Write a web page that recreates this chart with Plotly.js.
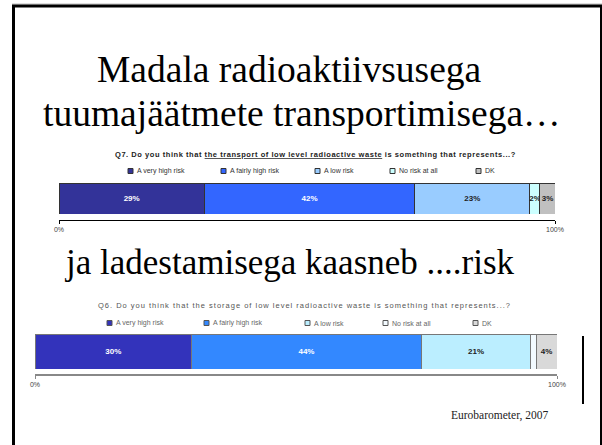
<!DOCTYPE html>
<html>
<head>
<meta charset="utf-8">
<script src="https://cdn.plot.ly/plotly-3.0.1.min.js"></script>
<style>
  html, body { margin: 0; padding: 0; background: #fff; }
  #chart { width: 602px; height: 445px; }
</style>
</head>
<body>
<div id="chart"></div>
<script>
var W = 602, H = 445;
// pixel -> paper helpers
function px(x) { return x / W; }
function py(y) { return 1 - y / H; }

var categories = ['A very high risk', 'A fairly high risk', 'A low risk', 'No risk at all', 'DK'];
var transportValues = [29, 42, 23, 2, 3];
var storageValues = [30, 44, 21, 1, 4];
var transportColors = ['#333399', '#3366ff', '#99ccff', '#ccffff', '#c0c0c0'];
var storageColors = ['#3333bb', '#3388ff', '#bbeeff', '#f2faff', '#d9d9d9'];
var tickLabels = ['0%', '100%'];

var headings = ['Madala radioaktiivsusega', 'tuumajäätmete transportimisega…', 'ja ladestamisega kaasneb ....risk'];
var q7Title = 'Q7. Do you think that <u>the transport of low level radioactive waste</u> is something that represents...?';
var q6Title = 'Q6. Do you think that the storage of low level radioactive waste is something that represents...?';
var source = 'Eurobarometer, 2007';

function sum(a) { return a.reduce(function (s, v) { return s + v; }, 0); }

function makeTraces(values, colors, xa, ya, lineColor) {
  return values.map(function (v, i) {
    return {
      type: 'bar',
      orientation: 'h',
      x: [v],
      y: [0],
      xaxis: xa,
      yaxis: ya,
      name: categories[i],
      width: 1,
      marker: { color: colors[i], line: { color: lineColor, width: 1 } },
      text: [v > 1 ? v + '%' : ''],
      textposition: 'inside',
      insidetextanchor: 'middle',
      textangle: 0,
      constraintext: 'none',
      insidetextfont: {
        family: 'Liberation Sans', size: 8, weight: 'bold',
        color: i < 2 ? '#ffffff' : '#222222'
      },
      showlegend: false,
      hoverinfo: 'skip'
    };
  });
}

var data = makeTraces(transportValues, transportColors, 'x', 'y', '#333333')
  .concat(makeTraces(storageValues, storageColors, 'x2', 'y2', '#777777'));

function xAxis(left, right, total, yPos, lineColor) {
  return {
    domain: [px(left), px(right)],
    range: [0, total],
    anchor: 'free',
    position: py(yPos),
    showline: true,
    linecolor: lineColor,
    linewidth: 1.5,
    ticks: 'outside',
    ticklen: 3,
    tickcolor: lineColor,
    tickvals: [0, total],
    ticktext: tickLabels,
    tickfont: { family: 'Liberation Sans', size: 7, color: '#444' },
    showgrid: false,
    zeroline: false,
    fixedrange: true
  };
}
function yAxis(top, bottom) {
  return { domain: [py(bottom), py(top)], range: [-0.5, 0.5], visible: false, fixedrange: true };
}

var annotations = [];
var shapes = [];

function text(x, y, t, size, family, color, anchor) {
  annotations.push({
    xref: 'paper', yref: 'paper', x: px(x), y: py(y), text: t, showarrow: false,
    xanchor: anchor || 'center', yanchor: 'middle',
    font: { family: family, size: size, color: color }
  });
}

var serif = 'Liberation Serif, Times New Roman, serif';
// slide headings
text(289, 70, headings[0], 37.5, serif, '#000');
text(302, 113, headings[1], 37.5, serif, '#000');
text(289, 262, headings[2], 35, serif, '#000');
text(500, 415, source, 11.5, serif, '#222');

// chart titles
text(315, 154, '<span style="letter-spacing:0.55px"><b>' + q7Title + '</b></span>', 7.5, 'Liberation Sans', '#222');
text(304, 305, '<span style="letter-spacing:1px">' + q6Title + '</span>', 7.5, 'Liberation Sans', '#555');

// legends
function legend(xs, y, colors, lineColor, textColor) {
  categories.forEach(function (c, i) {
    shapes.push({
      type: 'rect', xref: 'paper', yref: 'paper',
      x0: px(xs[i]), x1: px(xs[i] + 5), y0: py(y + 2.5), y1: py(y - 2.5),
      fillcolor: colors[i], line: { color: lineColor, width: 1 }
    });
    text(xs[i] + 7, y, c, 7, 'Liberation Sans', textColor, 'left');
  });
}
legend([128, 221, 315, 390, 476], 171, transportColors, '#333', '#333');
legend([107, 204, 305, 383, 473], 323, storageColors, '#555', '#666');

// slide frame
function line(x0, y0, x1, y1, color, w) {
  shapes.push({
    type: 'line', xref: 'paper', yref: 'paper',
    x0: px(x0), y0: py(y0), x1: px(x1), y1: py(y1),
    line: { color: color, width: w }
  });
}
line(12, 4, 602, 4, '#bbbbbb', 1);
line(12, 6, 602, 6, '#000', 3);
line(13.5, 5, 13.5, 450, '#000', 3);
line(601, 5, 601, 450, '#000', 2);
line(583, 336, 583, 404, '#000', 2);

var layout = {
  width: W,
  height: H,
  margin: { l: 0, r: 0, t: 0, b: 0 },
  paper_bgcolor: '#ffffff',
  plot_bgcolor: 'rgba(0,0,0,0)',
  barmode: 'stack',
  bargap: 0,
  showlegend: false,
  xaxis: xAxis(59, 555, sum(transportValues), 219.5, '#000'),
  yaxis: yAxis(183, 214),
  xaxis2: xAxis(35, 557, sum(storageValues), 374, '#888'),
  yaxis2: yAxis(334, 369),
  annotations: annotations,
  shapes: shapes
};

Plotly.newPlot('chart', data, layout, { displayModeBar: false, staticPlot: true });
</script>
</body>
</html>
